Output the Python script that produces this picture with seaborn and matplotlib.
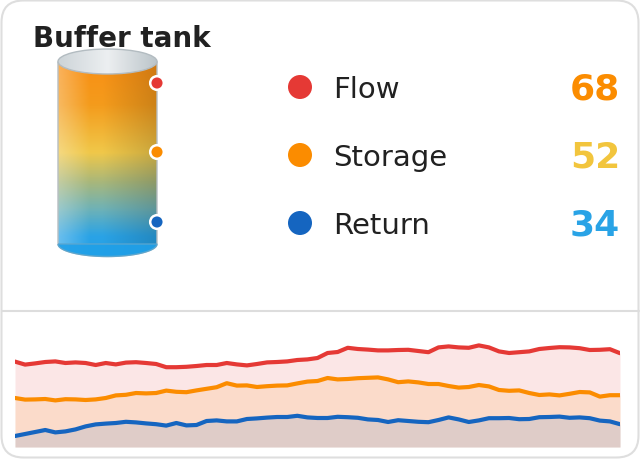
import numpy as np
import pandas as pd
import matplotlib
matplotlib.use("Agg")
import matplotlib.pyplot as plt
import seaborn as sns
from matplotlib.patches import FancyBboxPatch, Circle, Ellipse, PathPatch
from matplotlib.path import Path
from matplotlib.colors import LinearSegmentedColormap

# ---------------- data ----------------
title = "Buffer tank"
series_names = ["Flow", "Storage", "Return"]
current_values = [68, 52, 34]
dot_colors = ["#e53935", "#fb8c00", "#1565c0"]
value_colors = ["#fb8c00", "#f2c53d", "#29a3e6"]

flow = [62.7, 61.2, 61.8, 62.5, 62.8, 62.0, 62.3, 62.0, 61.0, 62.0,
        61.3, 62.2, 62.4, 62.0, 61.5, 59.9, 59.9, 60.1, 60.5, 61.0,
        61.0, 62.0, 61.3, 60.8, 61.5, 62.3, 62.5, 62.8, 63.5, 63.8,
        64.5, 67.0, 67.5, 69.6, 69.0, 68.7, 68.3, 68.3, 68.5, 68.6,
        68.0, 67.4, 69.8, 70.3, 69.8, 69.6, 70.8, 69.8, 67.8, 67.0,
        67.4, 67.8, 69.0, 69.5, 69.9, 69.8, 69.4, 68.5, 68.6, 68.9,
        66.9]
storage = [44.5, 43.7, 43.8, 44.0, 43.3, 43.9, 43.8, 43.5, 43.8, 44.5,
           45.8, 46.1, 47.0, 46.8, 47.0, 48.2, 47.6, 47.4, 48.3, 49.1,
           49.9, 51.9, 50.7, 50.8, 50.0, 50.4, 50.7, 50.8, 51.8, 52.7,
           53.0, 54.5, 53.8, 54.0, 54.4, 54.6, 54.8, 53.8, 52.4, 52.8,
           52.3, 51.5, 51.5, 50.5, 49.7, 50.0, 51.0, 50.3, 48.5, 48.1,
           48.3, 47.0, 46.0, 46.3, 45.8, 46.6, 47.5, 47.3, 45.2, 45.9,
           45.9]
ret = [25.5, 26.5, 27.5, 28.5, 27.3, 27.8, 28.8, 30.3, 31.3, 31.7,
       32.0, 32.6, 32.3, 31.8, 31.4, 30.7, 32.0, 30.8, 31.0, 33.0,
       33.3, 32.8, 32.8, 34.0, 34.3, 34.7, 35.0, 35.0, 35.6, 34.8,
       34.5, 34.5, 35.1, 34.9, 34.6, 33.8, 33.5, 32.5, 33.4, 33.0,
       32.6, 32.4, 33.5, 34.8, 33.8, 32.5, 33.3, 34.4, 34.4, 34.5,
       33.9, 34.0, 34.9, 35.0, 35.2, 34.6, 34.8, 34.4, 33.2, 32.8,
       31.4]
history = [flow, storage, ret]
y_floor = 20
y_ceiling = 75

# ---------------- figure ----------------
sns.set_theme(style="white")
plt.rcParams["font.family"] = ["DejaVu Sans"]

W, H = 640, 460
fig = plt.figure(figsize=(W / 100, H / 100), dpi=100)
fig.patch.set_facecolor("white")

bg = fig.add_axes([0, 0, 1, 1])
bg.set_xlim(0, W)
bg.set_ylim(H, 0)
bg.axis("off")

# card
card = FancyBboxPatch((1.5, 1.5), W - 3, H - 3,
                      boxstyle="round,pad=0,rounding_size=22",
                      facecolor="white", edgecolor="#dedede", lw=1.5, zorder=0)
bg.add_patch(card)
bg.plot([1.5, W - 1.5], [312, 312], color="#dddddd", lw=1.5, zorder=1)

# title
bg.text(33, 47, title, fontsize=20, fontweight="bold", color="#212121",
        va="baseline", ha="left", zorder=5)

# ---------------- tank ----------------
tx0, tx1 = 58, 157
ttop, tbot = 62.5, 245
ry = 12.5
stops = [(0.00, "#f98f14"), (0.22, "#f49b1c"), (0.47, "#f0c84a"),
         (0.62, "#a9b77a"), (0.76, "#6fb2b6"), (0.90, "#2aa3e6"), (1.00, "#24a0e6")]
cmap_v = LinearSegmentedColormap.from_list("tank", stops)
ny, nx = 200, 100
yy = np.linspace(0, 1, ny)[:, None]
xx = np.linspace(0, 1, nx)[None, :]
img = cmap_v(np.repeat(yy, nx, axis=1))[:, :, :3]
light = np.clip((0.32 - xx) / 0.32, 0, 1) * 0.30
dark = np.clip((xx - 0.45) / 0.55, 0, 1) * 0.16
img = img * (1 - light[..., None]) + light[..., None]
img = img * (1 - dark[..., None])
im = bg.imshow(img, extent=(tx0, tx1, tbot + ry, ttop), aspect="auto",
               interpolation="bilinear", zorder=2)
cx = (tx0 + tx1) / 2
rx = (tx1 - tx0) / 2
arc = [(cx + rx * np.cos(t), tbot + ry * np.sin(t)) for t in np.linspace(np.pi, 0, 60)]
verts = [(tx0, ttop), (tx0, tbot)] + arc + [(tx1, ttop), (tx0, ttop)]
body = PathPatch(Path(verts), facecolor="none", edgecolor="#b7bec2", lw=1.0, zorder=3)
bg.add_patch(body)
im.set_clip_path(body)
bverts = [(tx0, tbot)] + arc + [(tx0, tbot)]
bg.add_patch(PathPatch(Path(bverts), facecolor="#20a0e8", edgecolor="#5aa6cf",
                       lw=1.0, alpha=0.9, zorder=3))
lid = Ellipse((cx, ttop), 2 * rx, 2 * ry, facecolor="none", edgecolor="#b3bcc1",
              lw=1.0, zorder=4.5)
bg.add_patch(lid)
lid_cmap = LinearSegmentedColormap.from_list(
    "lid", [(0, "#cdd4d8"), (0.5, "#eceff1"), (1, "#bcc5ca")])
lid_img = lid_cmap(np.repeat(np.linspace(0, 1, 100)[None, :], 20, axis=0))
lim = bg.imshow(lid_img, extent=(tx0, tx1, ttop + ry, ttop - ry), aspect="auto",
                interpolation="bilinear", zorder=4)
lim.set_clip_path(lid)

sensor_y = [84, 153, 223]
for sy, c in zip(sensor_y, dot_colors):
    bg.add_patch(Circle((tx1, sy), 6.8, facecolor=c, edgecolor="white", lw=1.8, zorder=6))

# ---------------- legend / values ----------------
row_y = [88, 156, 224]
for name, val, dc, vc, yc in zip(series_names, current_values, dot_colors, value_colors, row_y):
    bg.add_patch(Circle((300, yc), 12, facecolor=dc, edgecolor="none", zorder=5))
    bg.text(333, yc + 10.5, name, fontsize=21, color="#212121", va="baseline",
            ha="left", zorder=5)
    bg.text(620, yc + 12, str(val), fontsize=26, fontweight="bold", color=vc,
            va="baseline", ha="right", zorder=5)

# ---------------- sparkline ----------------
n = len(flow)
df = pd.DataFrame({
    "t": np.tile(np.arange(n), 3),
    "temp": np.concatenate(history),
    "series": np.repeat(series_names, n),
})
left_px, right_px, bottom_px = 15, 620, 448
top_px = bottom_px - (y_ceiling - y_floor) * 2
ax = fig.add_axes([left_px / W, (H - bottom_px) / H,
                   (right_px - left_px) / W, (bottom_px - top_px) / H])
ax.patch.set_alpha(0)
for vals, c in zip(history, dot_colors):
    ax.fill_between(np.arange(n), vals, y_floor, color=c, alpha=0.12, lw=0)
sns.lineplot(data=df, x="t", y="temp", hue="series", hue_order=series_names,
             palette=dot_colors, linewidth=3.0, legend=False, ax=ax)
for line in ax.lines:
    line.set_solid_capstyle("round")
    line.set_solid_joinstyle("round")
ax.set_xlim(0, n - 1)
ax.set_ylim(y_floor, y_ceiling)
ax.axis("off")

fig.savefig("out.png", dpi=100, facecolor="white")
